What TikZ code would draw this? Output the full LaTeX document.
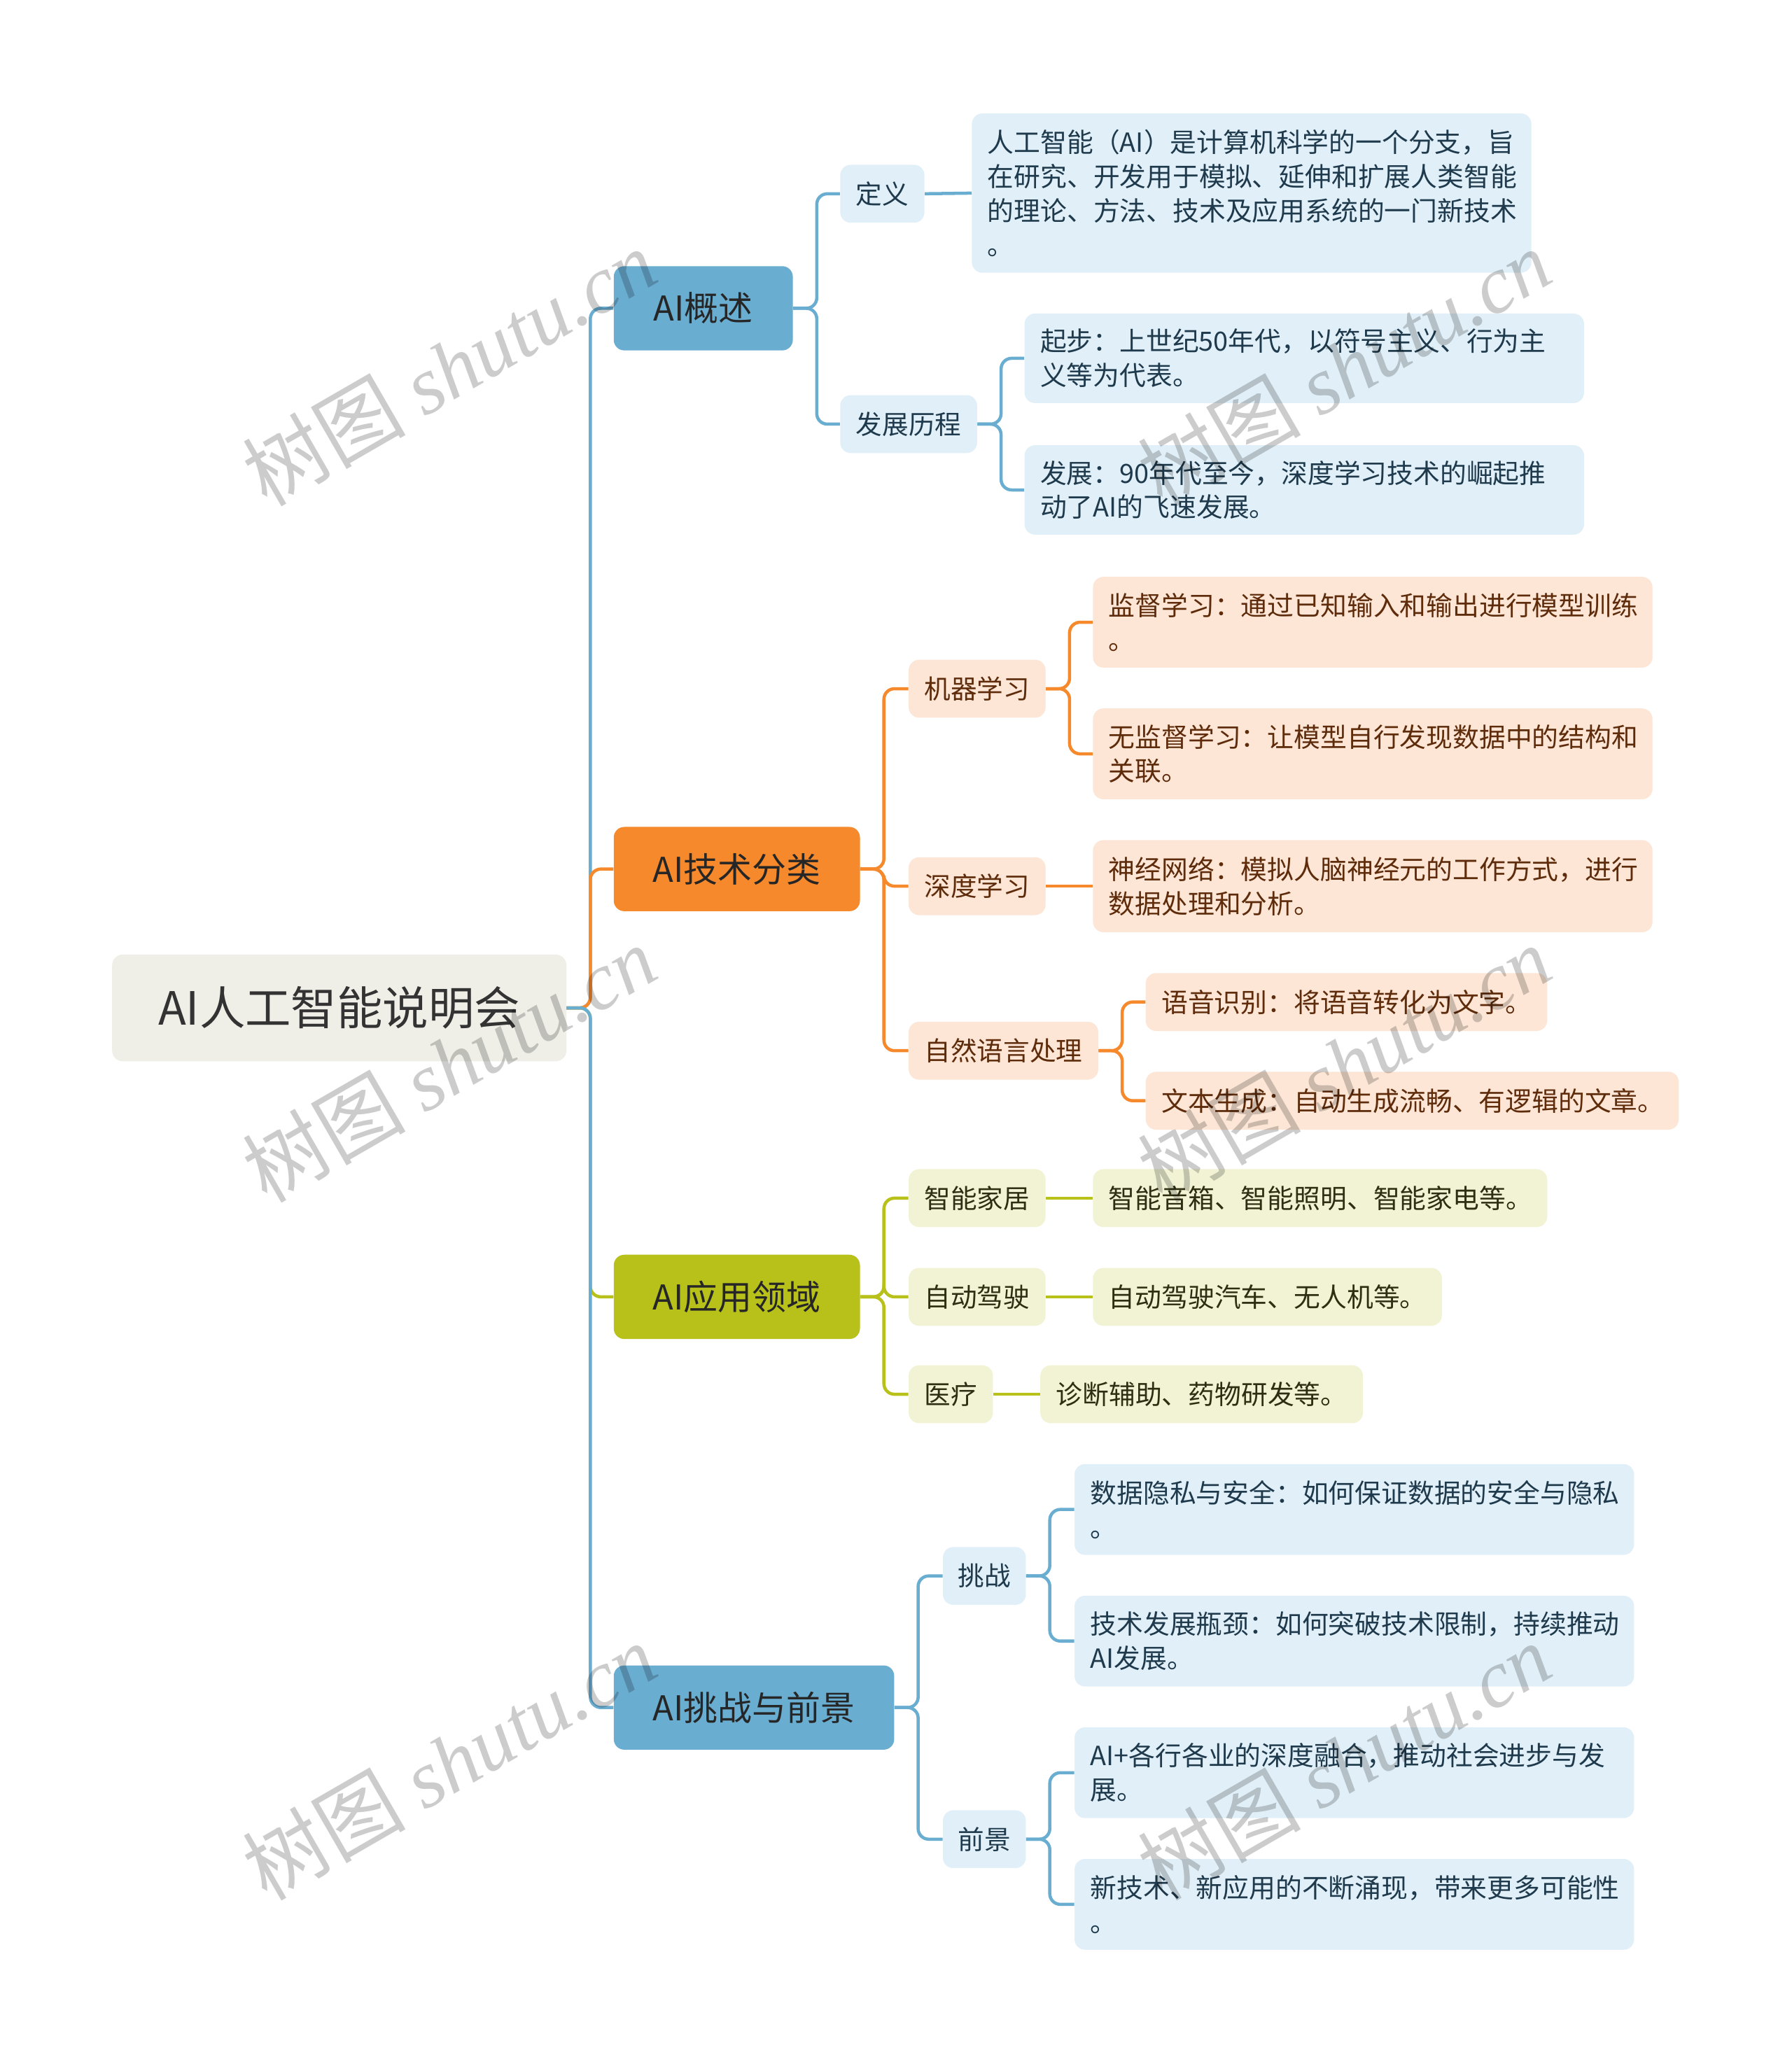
\documentclass[tikz,border=0pt]{standalone}
\usepackage{fontspec}
\setmainfont{Noto Sans CJK SC}
\newfontfamily\wmlat{Liberation Serif}
\newfontfamily\wmcjk{Noto Sans CJK SC}
\definecolor{rootfill}{HTML}{EFEFE8}
\definecolor{roottext}{HTML}{333333}
\definecolor{bmain}{HTML}{69ADD1}
\definecolor{blight}{HTML}{E1F0F8}
\definecolor{btext}{HTML}{1F3A4C}
\definecolor{omain}{HTML}{F5892B}
\definecolor{olight}{HTML}{FDE6D6}
\definecolor{otext}{HTML}{5E2B0B}
\definecolor{gmain}{HTML}{B8C11A}
\definecolor{glight}{HTML}{F1F3D4}
\definecolor{gtext}{HTML}{2E2F12}
\definecolor{maintext}{HTML}{262626}
\tikzset{
  box/.style={draw=none, rounded corners=8pt, anchor=north west, inner ysep=0pt},
  rootbox/.style={box, fill=rootfill, text=roottext, align=center, inner xsep=0pt,
    font=\fontsize{34.8}{40}\selectfont, minimum height=81pt},
  branchbox/.style={box, text=maintext, align=center, inner xsep=0pt,
    font=\fontsize{26}{30}\selectfont, minimum height=64pt},
  subbox/.style={box, align=center, inner xsep=0pt,
    font=\fontsize{20}{26}\selectfont, minimum height=44pt},
  leafbox/.style={box, align=left, inner xsep=12pt,
    font=\fontsize{20.1}{26}\selectfont},
  bB/.style={branchbox, fill=bmain},
  bO/.style={branchbox, fill=omain},
  bG/.style={branchbox, fill=gmain},
  sB/.style={subbox, fill=blight, text=btext},
  sO/.style={subbox, fill=olight, text=otext},
  sG/.style={subbox, fill=glight, text=gtext},
  lB/.style={leafbox, fill=blight, text=btext},
  lO/.style={leafbox, fill=olight, text=otext},
  lG/.style={leafbox, fill=glight, text=gtext},
  conn/.style={line width=2.4pt, rounded corners=8pt},
  cB/.style={conn, draw=bmain},
  cO/.style={conn, draw=omain},
  cG/.style={conn, draw=gmain},
  wm/.style={rotate=30, text=black, text opacity=0.2, inner sep=0pt,
    font=\fontsize{62}{64}\selectfont}
}
\begin{document}
\begin{tikzpicture}[x=1pt,y=-1pt]
\useasboundingbox[fill=white] (0,0) rectangle (1361,1568);

% root
\node[rootbox, minimum width=345pt] (root) at (85,725) {AI人工智能说明会};

% branches
\node[bB, minimum width=136pt] (b1) at (466,202) {AI概述};
\node[bO, minimum width=187pt] (b2) at (466,628) {AI技术分类};
\node[bG, minimum width=187pt] (b3) at (466,953) {AI应用领域};
\node[bB, minimum width=213pt] (b4) at (466,1265) {AI挑战与前景};

% sub nodes
\node[sB, minimum width=64pt] (s11) at (638,125) {定义};
\node[sB, minimum width=104pt] (s12) at (638,300) {发展历程};
\node[sO, minimum width=104pt] (s21) at (690,501) {机器学习};
\node[sO, minimum width=104pt] (s22) at (690,651) {深度学习};
\node[sO, minimum width=144pt] (s23) at (690,776) {自然语言处理};
\node[sG, minimum width=104pt] (s31) at (690,888) {智能家居};
\node[sG, minimum width=104pt] (s32) at (690,963) {自动驾驶};
\node[sG, minimum width=64pt] (s33) at (690,1037) {医疗};
\node[sB, minimum width=63pt] (s41) at (716,1175) {挑战};
\node[sB, minimum width=63pt] (s42) at (716,1375) {前景};

% leaves
\node[lB, text width=401pt, minimum height=121pt] (l111) at (738,86)
  {人工智能（AI）是计算机科学的一个分支，旨\\在研究、开发用于模拟、延伸和扩展人类智能\\的理论、方法、技术及应用系统的一门新技术\\。};
\node[lB, text width=401pt, minimum height=68pt] (l121) at (778,238)
  {起步：上世纪50年代，以符号主义、行为主\\义等为代表。};
\node[lB, text width=401pt, minimum height=68pt] (l122) at (778,338)
  {发展：90年代至今，深度学习技术的崛起推\\动了AI的飞速发展。};
\node[lO, text width=401pt, minimum height=69pt] (l211) at (830,438)
  {监督学习：通过已知输入和输出进行模型训练\\。};
\node[lO, text width=401pt, minimum height=69pt] (l212) at (830,538)
  {无监督学习：让模型自行发现数据中的结构和\\关联。};
\node[lO, text width=401pt, minimum height=70pt] (l221) at (830,638)
  {神经网络：模拟人脑神经元的工作方式，进行\\数据处理和分析。};
\node[lO, text width=281pt, minimum height=44pt] (l231) at (870,739)
  {语音识别：将语音转化为文字。};
\node[lO, text width=381pt, minimum height=44pt] (l232) at (870,814)
  {文本生成：自动生成流畅、有逻辑的文章。};
\node[lG, text width=321pt, minimum height=44pt] (l311) at (830,888)
  {智能音箱、智能照明、智能家电等。};
\node[lG, text width=241pt, minimum height=44pt] (l321) at (830,963)
  {自动驾驶汽车、无人机等。};
\node[lG, text width=221pt, minimum height=44pt] (l331) at (790,1037)
  {诊断辅助、药物研发等。};
\node[lB, text width=401pt, minimum height=69pt] (l411) at (816,1112)
  {数据隐私与安全：如何保证数据的安全与隐私\\。};
\node[lB, text width=401pt, minimum height=69pt] (l412) at (816,1212)
  {技术发展瓶颈：如何突破技术限制，持续推动\\AI发展。};
\node[lB, text width=401pt, minimum height=69pt] (l421) at (816,1312)
  {AI+各行各业的深度融合，推动社会进步与发\\展。};
\node[lB, text width=401pt, minimum height=69pt] (l422) at (816,1412)
  {新技术、新应用的不断涌现，带来更多可能性\\。};

% connectors root -> branches
\draw[cB] (root.east) -- ++(18,0) |- (b1.west);
\draw[cO] (root.east) -- ++(18,0) |- (b2.west);
\draw[cG] (root.east) -- ++(18,0) |- (b3.west);
\draw[cB] (root.east) -- ++(18,0) |- (b4.west);

% branch 1
\draw[cB] (b1.east) -- ++(18,0) |- (s11.west);
\draw[cB] (b1.east) -- ++(18,0) |- (s12.west);
\draw[cB] (s11.east) -- (l111.west);
\draw[cB] (s12.east) -- ++(18,0) |- (l121.west);
\draw[cB] (s12.east) -- ++(18,0) |- (l122.west);

% branch 2
\draw[cO] (b2.east) -- ++(18,0) |- (s21.west);
\draw[cO] (b2.east) -- ++(18,0) |- (s22.west);
\draw[cO] (b2.east) -- ++(18,0) |- (s23.west);
\draw[cO] (s21.east) -- ++(18,0) |- (l211.west);
\draw[cO] (s21.east) -- ++(18,0) |- (l212.west);
\draw[cO] (s22.east) -- (l221.west);
\draw[cO] (s23.east) -- ++(18,0) |- (l231.west);
\draw[cO] (s23.east) -- ++(18,0) |- (l232.west);

% branch 3
\draw[cG] (b3.east) -- ++(18,0) |- (s31.west);
\draw[cG] (b3.east) -- ++(18,0) |- (s32.west);
\draw[cG] (b3.east) -- ++(18,0) |- (s33.west);
\draw[cG] (s31.east) -- (l311.west);
\draw[cG] (s32.east) -- (l321.west);
\draw[cG] (s33.east) -- (l331.west);

% branch 4
\draw[cB] (b4.east) -- ++(18,0) |- (s41.west);
\draw[cB] (b4.east) -- ++(18,0) |- (s42.west);
\draw[cB] (s41.east) -- ++(18,0) |- (l411.west);
\draw[cB] (s41.east) -- ++(18,0) |- (l412.west);
\draw[cB] (s42.east) -- ++(18,0) |- (l421.west);
\draw[cB] (s42.east) -- ++(18,0) |- (l422.west);

% watermarks
\node[wm] (wm1) at (341,279) {{\wmcjk 树图} {\wmlat\itshape shutu.cn}};
\node[wm] (wm2) at (1021,279) {{\wmcjk 树图} {\wmlat\itshape shutu.cn}};
\node[wm] (wm3) at (341,808) {{\wmcjk 树图} {\wmlat\itshape shutu.cn}};
\node[wm] (wm4) at (1021,808) {{\wmcjk 树图} {\wmlat\itshape shutu.cn}};
\node[wm] (wm5) at (341,1338) {{\wmcjk 树图} {\wmlat\itshape shutu.cn}};
\node[wm] (wm6) at (1021,1338) {{\wmcjk 树图} {\wmlat\itshape shutu.cn}};
\end{tikzpicture}
\end{document}
